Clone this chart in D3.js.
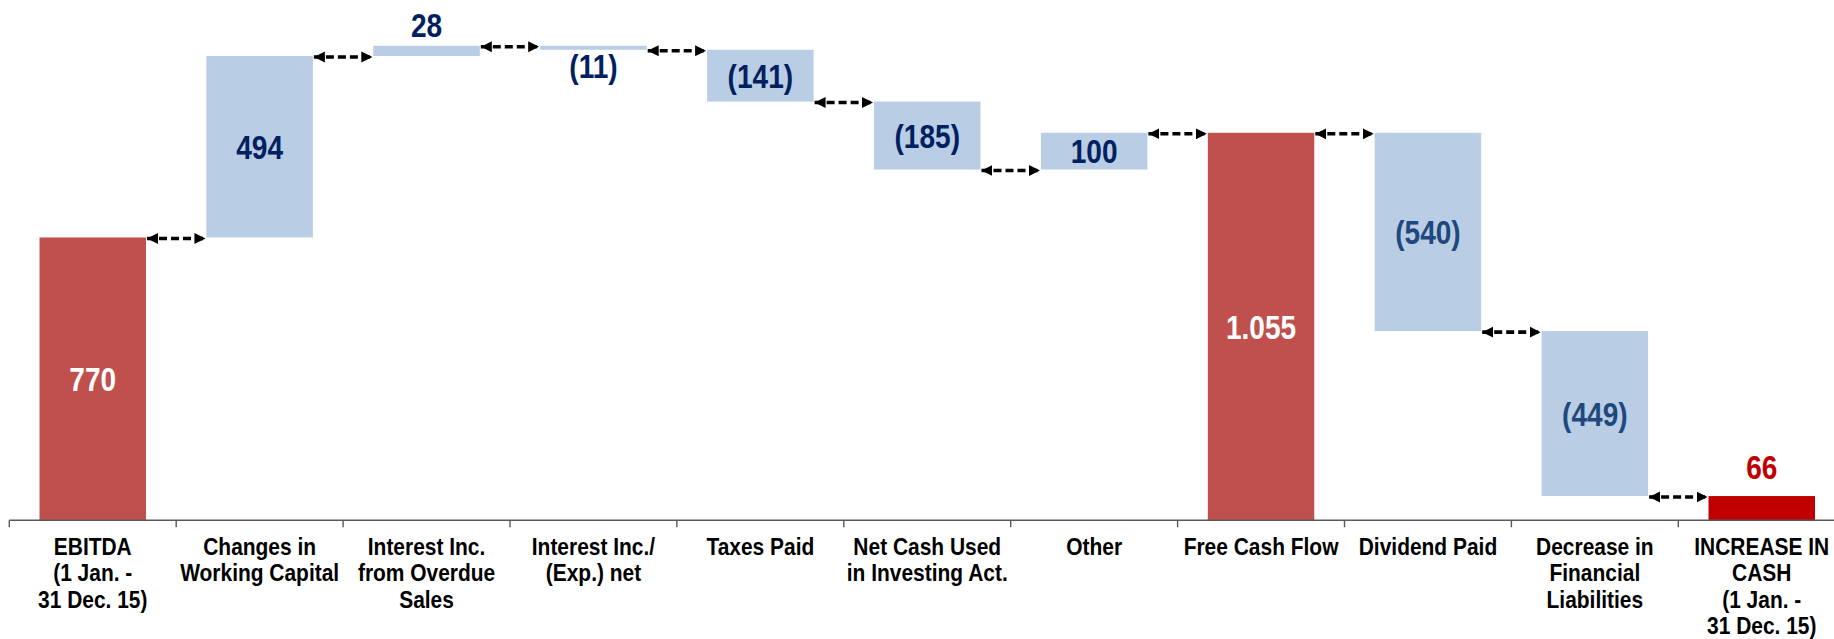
<!DOCTYPE html>
<html>
<head>
<meta charset="utf-8">
<script src="https://cdn.jsdelivr.net/npm/d3@7"></script>
<style>
  html, body { margin: 0; padding: 0; background: #ffffff; }
  svg { display: block; }
  .cat { font-family: "Liberation Sans", Arial, sans-serif; font-weight: bold; font-size: 24.5px; fill: #000; }
  .val { font-family: "Liberation Sans", Arial, sans-serif; font-weight: bold; font-size: 33px; }
</style>
</head>
<body>
<svg id="chart" width="1834" height="639"></svg>
<script>
// Cash flow bridge, 1 Jan. - 31 Dec. 15 (figures in thousands)
const categories = [
  ["EBITDA", "(1 Jan. -", "31 Dec. 15)"],
  ["Changes in", "Working Capital"],
  ["Interest Inc.", "from Overdue", "Sales"],
  ["Interest Inc./", "(Exp.) net"],
  ["Taxes Paid"],
  ["Net Cash Used", "in Investing Act."],
  ["Other"],
  ["Free Cash Flow"],
  ["Dividend Paid"],
  ["Decrease in", "Financial", "Liabilities"],
  ["INCREASE IN", "CASH", "(1 Jan. -", "31 Dec. 15)"]
];
const values = [770, 494, 28, -11, -141, -185, 100, 1055, -540, -449, 66];
// "start" / "subtotal" / "end" bars stand on zero; "step" bars float between running totals
const barKinds = ["start", "step", "step", "step", "step", "step", "step", "subtotal", "step", "step", "end"];

const W = 1834, H = 639;
const baseY = 520.3;
const catSqueeze = 0.855;  // narrow type for category names
const valSqueeze = 0.85;   // narrow type for value labels
const svg = d3.select("#chart");

// running totals for the floating steps
let running = 0;
const bars = values.map((v, i) => {
  const kind = barKinds[i];
  let lo, hi;
  if (kind === "step") {
    lo = Math.min(running, running + v);
    hi = Math.max(running, running + v);
    running += v;
  } else {
    lo = 0; hi = v; running = v;
  }
  return { i, v, kind, lo, hi, level: running, afterSubtotal: barKinds.slice(0, i).includes("subtotal") };
});

const x = d3.scaleBand()
  .domain(d3.range(values.length))
  .range([9.3, 9.3 + 166.9 * values.length])
  .paddingInner(0.362)
  .paddingOuter(0.181);

const y = d3.scaleLinear().domain([0, 1416.5]).range([baseY, 0]);

const fillFor = { start: "#C0504D", subtotal: "#C0504D", end: "#C00000", step: "#B9CDE5" };

// bars
svg.append("g").selectAll("rect")
  .data(bars).join("rect")
  .attr("x", d => x(d.i))
  .attr("width", x.bandwidth())
  .attr("y", d => y(d.hi))
  .attr("height", d => Math.max(1, y(d.lo) - y(d.hi)))
  .attr("fill", d => fillFor[d.kind]);

// axis with category ticks at band boundaries
const axisG = svg.append("g");
axisG.append("line")
  .attr("x1", x.range()[0]).attr("x2", W)
  .attr("y1", baseY).attr("y2", baseY)
  .attr("stroke", "#595959").attr("stroke-width", 1.6);
axisG.selectAll("line.tick")
  .data(d3.range(values.length)).join("line")
  .attr("class", "tick")
  .attr("x1", i => x.range()[0] + i * x.step())
  .attr("x2", i => x.range()[0] + i * x.step())
  .attr("y1", baseY).attr("y2", baseY + 7)
  .attr("stroke", "#595959").attr("stroke-width", 1.4);

// category labels
const catG = svg.append("g");
categories.forEach((lines, i) => {
  const cx = x(i) + x.bandwidth() / 2;
  const t = catG.append("text")
    .attr("class", "cat")
    .attr("text-anchor", "middle")
    .attr("transform", `translate(${cx},555) scale(${catSqueeze},1)`);
  lines.forEach((ln, k) => {
    t.append("tspan")
      .attr("x", 0)
      .attr("dy", k === 0 ? 0 : 26.3)
      .text(ln);
  });
});

// dashed double-headed connectors between neighbouring bars
const defs = svg.append("defs");
["arrEnd", "arrStart"].forEach((id, k) => {
  defs.append("marker")
    .attr("id", id)
    .attr("viewBox", "0 0 10 10")
    .attr("refX", 10).attr("refY", 5)
    .attr("markerUnits", "userSpaceOnUse")
    .attr("markerWidth", 11).attr("markerHeight", 12)
    .attr("orient", k === 0 ? "auto" : "auto-start-reverse")
    .append("path").attr("d", "M0,0 L10,5 L0,10 Z").attr("fill", "#000");
});
svg.append("g").selectAll("line")
  .data(bars.slice(0, -1)).join("line")
  .attr("x1", d => x(d.i) + x.bandwidth() + 1)
  .attr("x2", d => x(d.i + 1) - 1)
  .attr("y1", d => y(d.level) + 1)
  .attr("y2", d => y(d.level) + 1)
  .attr("stroke", "#000")
  .attr("stroke-width", 3.6)
  .attr("stroke-dasharray", "8,4")
  .attr("marker-start", "url(#arrStart)")
  .attr("marker-end", "url(#arrEnd)");

// value labels
const loc = d3.formatLocale({ decimal: ",", thousands: ".", grouping: [3], currency: ["", ""] });
const fmt = loc.format(",.0f");
const label = v => v < 0 ? "(" + fmt(-v) + ")" : fmt(v);
const labelColor = d => d.kind === "end" ? "#C00000"
  : (d.kind === "start" || d.kind === "subtotal") ? "#FFFFFF"
  : d.afterSubtotal ? "#1F497D" : "#002060";
const labelY = d => {
  const top = y(d.hi), bot = y(d.lo);
  if (bot - top >= 30) return (top + bot) / 2 + 12;
  if (d.v >= 0) return top - (d.kind === "end" ? 17 : 9);
  return bot + 28;
};

svg.append("g").selectAll("text")
  .data(bars).join("text")
  .attr("class", "val")
  .attr("text-anchor", "middle")
  .attr("fill", labelColor)
  .attr("transform", d => `translate(${x(d.i) + x.bandwidth() / 2},${labelY(d)}) scale(${valSqueeze},1)`)
  .text(d => label(d.v));
</script>
</body>
</html>
